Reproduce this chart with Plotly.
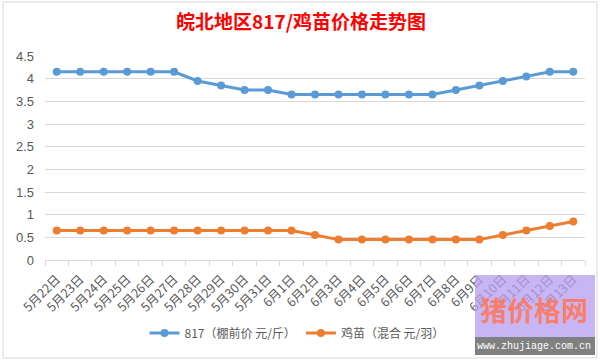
import plotly.graph_objects as go

dates = ["5月22日", "5月23日", "5月24日", "5月25日", "5月26日", "5月27日", "5月28日",
         "5月29日", "5月30日", "5月31日", "6月1日", "6月2日", "6月3日", "6月4日",
         "6月5日", "6月6日", "6月7日", "6月8日", "6月9日", "6月10日", "6月11日",
         "6月12日", "6月13日"]
pig_817 = [4.15, 4.15, 4.15, 4.15, 4.15, 4.15, 3.95, 3.85, 3.75, 3.75, 3.65, 3.65,
           3.65, 3.65, 3.65, 3.65, 3.65, 3.75, 3.85, 3.95, 4.05, 4.15, 4.15]
chick = [0.65, 0.65, 0.65, 0.65, 0.65, 0.65, 0.65, 0.65, 0.65, 0.65, 0.65, 0.55,
         0.45, 0.45, 0.45, 0.45, 0.45, 0.45, 0.45, 0.55, 0.65, 0.75, 0.85]
series_names = ["817（棚前价 元/斤）", "鸡苗（混合 元/羽）"]
y_ticks = [0, 0.5, 1, 1.5, 2, 2.5, 3, 3.5, 4, 4.5]
y_tick_text = ["0", "0.5", "1", "1.5", "2", "2.5", "3", "3.5", "4", "4.5"]

W, H = 600, 361
L, R, T, B = 45, 15, 56, 101
PW, PH = W - L - R, H - T - B

def px(x):
    return (x - L) / PW

def py(y):
    return (H - B - y) / PH

fig = go.Figure()
fig.add_trace(go.Scatter(x=dates, y=pig_817, name=series_names[0], mode="lines+markers",
                         line=dict(color="#5B9BD5", width=3),
                         marker=dict(color="#5B9BD5", size=8)))
fig.add_trace(go.Scatter(x=dates, y=chick, name=series_names[1], mode="lines+markers",
                         line=dict(color="#ED7D31", width=3),
                         marker=dict(color="#ED7D31", size=8)))

font_cjk = "Noto Sans CJK SC, sans-serif"

fig.update_layout(
    width=W, height=H,
    margin=dict(l=L, r=R, t=T, b=B, autoexpand=False),
    paper_bgcolor="white", plot_bgcolor="white",
    title=dict(text="<b>皖北地区817/鸡苗价格走势图</b>", x=px(301), xanchor="center",
               xref="paper", y=1 - 22 / H, yanchor="middle",
               font=dict(family=font_cjk, size=19, color="#FF0000")),
    showlegend=True,
    legend=dict(orientation="h", x=px(297), xanchor="center", y=py(333), yanchor="middle",
                font=dict(family=font_cjk, size=12, color="#595959"),
                itemwidth=30, bgcolor="rgba(0,0,0,0)"),
    xaxis=dict(type="category", range=[-0.5, len(dates) - 0.5], automargin=False,
               showgrid=False, showline=True, linecolor="#D9D9D9", linewidth=1,
               ticks="outside", tickson="boundaries", ticklen=5, tickcolor="#D9D9D9",
               ticklabelstandoff=6,
               tickangle=-45, tickfont=dict(family=font_cjk, size=12.5, color="#595959"),
               fixedrange=True),
    yaxis=dict(range=[0, 4.5], tickvals=y_ticks, ticktext=y_tick_text, automargin=False,
               showgrid=True, gridcolor="#D9D9D9", gridwidth=1, zeroline=False,
               showline=False, ticks="", ticklabelstandoff=10,
               tickfont=dict(family="Liberation Sans, sans-serif", size=13, color="#595959")),
)

shapes = [
    # chart frame
    dict(type="rect", xref="paper", yref="paper", x0=px(3), x1=px(597), y0=py(358), y1=py(2),
         line=dict(color="#D9D9D9", width=1), fillcolor="rgba(0,0,0,0)", layer="below"),
    # watermark
    dict(type="rect", xref="paper", yref="paper", x0=px(475), x1=px(595), y0=py(337), y1=py(275),
         line=dict(width=0), fillcolor="rgba(185,160,240,0.78)", layer="above"),
    dict(type="rect", xref="paper", yref="paper", x0=px(475), x1=px(595), y0=py(355), y1=py(337),
         line=dict(width=0), fillcolor="#808080", layer="above"),
]
fig.update_layout(shapes=shapes)

fig.add_annotation(xref="paper", yref="paper", x=px(534), y=py(309), text="<b>猪价格网</b>",
                   showarrow=False, xanchor="center", yanchor="middle",
                   font=dict(family=font_cjk, size=27, color="rgba(255,120,90,0.9)"))
fig.add_annotation(xref="paper", yref="paper", x=px(534), y=py(346), text="www.zhujiage.com.cn",
                   showarrow=False, xanchor="center", yanchor="middle",
                   font=dict(family="Liberation Mono, monospace", size=10, color="white"))

fig.write_html("out.html", config={"displayModeBar": False},
               post_script="document.body.style.margin='0';document.body.style.overflow='hidden';")
